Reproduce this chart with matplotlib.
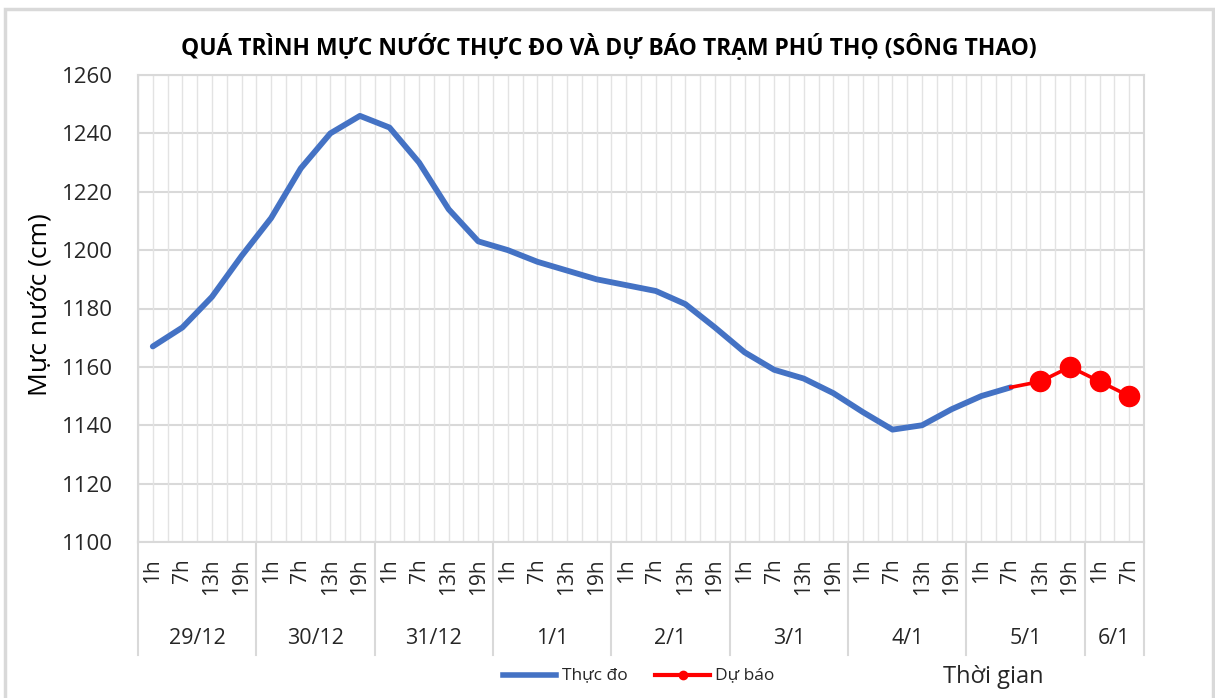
import matplotlib
matplotlib.use("Agg")
import matplotlib.pyplot as plt
from matplotlib.lines import Line2D
from matplotlib.patches import Rectangle
import matplotlib.transforms as mtransforms

plt.rcParams['font.family'] = ['Open Sans', 'DejaVu Sans']

# ---------------- data ----------------
days = ["29/12", "30/12", "31/12", "1/1", "2/1", "3/1", "4/1", "5/1", "6/1"]
hours_per_day = [4, 4, 4, 4, 4, 4, 4, 4, 2]
hour_names = ["1h", "7h", "13h", "19h"]

observed = [1167, 1173.5, 1184, 1198, 1211, 1228, 1240, 1246,
            1242, 1230, 1214, 1203, 1200, 1196, 1193, 1190,
            1188, 1186, 1181.5, 1173.5, 1165, 1159, 1156, 1151,
            1144.5, 1138.5, 1140, 1145.5, 1150, 1153]
forecast_start = 29           # index of 5/1 7h
forecast = [1153, 1155, 1160, 1155, 1150]

title = "QUÁ TRÌNH MỰC NƯỚC THỰC ĐO VÀ DỰ BÁO TRẠM PHÚ THỌ (SÔNG THAO)"
ylabel = "Mực nước (cm)"
xlabel = "Thời gian"
legend_obs = "Thực đo"
legend_fc = "Dự báo"
yticks = [1100, 1120, 1140, 1160, 1180, 1200, 1220, 1240, 1260]

# ---------------- build categories ----------------
hour_labels = []
for n in hours_per_day:
    hour_labels += hour_names[:n]
ncat = len(hour_labels)
x_obs = list(range(len(observed)))
x_fc = list(range(forecast_start, forecast_start + len(forecast)))

W, H = 1215, 698
fig = plt.figure(figsize=(W / 100, H / 100), dpi=100)

L, R, T, B = 138, 1144, 75, 542
ax = fig.add_axes([L / W, 1 - B / H, (R - L) / W, (B - T) / H])

BLUE = "#4472C4"
RED = "#FF0000"
GRID = "#d9d9d9"

ax.plot(x_obs, observed, color=BLUE, lw=4.2, solid_capstyle='round',
        solid_joinstyle='round', zorder=3)
ax.plot(x_fc, forecast, color=RED, lw=2.6, marker='o', markersize=14.5,
        markevery=list(range(1, len(forecast))), zorder=4)

ax.set_xlim(-0.5, ncat - 0.5)
ax.set_ylim(1100, 1260)
ax.set_yticks(yticks)
ax.set_yticklabels([str(v) for v in yticks], fontsize=16, color="#262626")
ax.set_xticks(range(ncat))
ax.set_xticklabels(hour_labels, rotation=90, fontsize=15, color="#262626")
ax.tick_params(axis='x', length=0, pad=12)
ax.tick_params(axis='y', length=0, pad=18)

# grid
for v in yticks:
    ax.axhline(v, color=GRID, lw=1.5, zorder=1)
for i in range(ncat * 2 + 1):
    ax.axvline(-0.5 + i * 0.5, color="#e3e3e3", lw=1.0, zorder=1)
for s in ax.spines.values():
    s.set_color(GRID)
    s.set_linewidth(1.5)

# multi-level category axis
trans = mtransforms.blended_transform_factory(ax.transData, ax.transAxes)
sep_bottom = -(655 - B) / (B - T)
pos = -0.5
bounds = [pos]
for d, n in zip(days, hours_per_day):
    center = pos + n / 2
    ax.text(center, -(638 - B) / (B - T), d, transform=trans, ha='center',
            va='center', fontsize=15.5, color="#262626")
    pos += n
    bounds.append(pos)
for bx in bounds:
    ax.add_line(Line2D([bx, bx], [0, sep_bottom], transform=trans,
                       color=GRID, lw=1.5, clip_on=False))

# titles
fig.text(609 / W, 1 - 47 / H, title, ha='center', va='center',
         fontsize=16.5, fontweight='bold', color="#000000")
fig.text(40 / W, 1 - 305 / H, ylabel, ha='center', va='center',
         rotation=90, fontsize=19, color="#000000")
fig.text(993 / W, 1 - 677 / H, xlabel, ha='center', va='center',
         fontsize=17, color="#262626")

# legend (manual)
ly = 1 - 675 / H
fig.add_artist(Line2D([503 / W, 556 / W], [ly, ly], color=BLUE, lw=4,
                      transform=fig.transFigure))
fig.text(562 / W, ly, legend_obs, ha='left', va='center', fontsize=12.5,
         color="#262626")
fig.add_artist(Line2D([655 / W, 710 / W], [ly, ly], color=RED, lw=3,
                      transform=fig.transFigure))
fig.add_artist(Line2D([683 / W], [ly], color=RED, marker='o', markersize=6,
                      transform=fig.transFigure))
fig.text(715 / W, ly, legend_fc, ha='left', va='center', fontsize=12.5,
         color="#262626")

# chart frame
fig.add_artist(Rectangle((5 / W, -0.01), (1213 - 5) / W, 1 - 9 / H + 0.01,
                         transform=fig.transFigure, fill=False,
                         edgecolor=GRID, lw=2.5))

fig.savefig("out.png", dpi=100, facecolor="white")
